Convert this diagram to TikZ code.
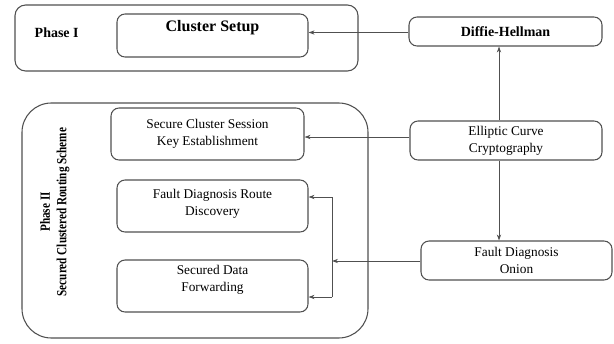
\documentclass[tikz,border=0pt]{standalone}
\usepackage{fontspec}
\setmainfont{Liberation Serif}
\usetikzlibrary{arrows.meta}
\definecolor{ln}{HTML}{505050}
\tikzset{
  box/.style={draw=ln, line width=0.8pt, rounded corners=6pt, inner sep=0pt, align=center, font=\fontsize{10}{12.5}\selectfont},
  outer/.style={draw=ln, line width=0.8pt, inner sep=0pt},
  conn/.style={draw=ln, line width=0.7pt, -{Stealth[length=4.5pt,width=3.2pt]}},
  bus/.style={draw=ln, line width=0.7pt}
}
\begin{document}
\begin{tikzpicture}[x=0.75pt,y=-0.75pt]
\useasboundingbox (0,0) rectangle (614,343);
% Phase I
\node[outer, rounded corners=8pt, minimum width=257.25pt, minimum height=49.5pt] (p1) at (186.5,38) {};
\node[font=\fontsize{10.5}{12}\selectfont\bfseries, anchor=west] (p1t) at (30,33) {Phase I};
\node[box, minimum width=143.25pt, minimum height=32.25pt] (cs) at (212.5,35.5) {};
\node[font=\fontsize{12}{14}\selectfont\bfseries] (cst) at (212.5,28) {Cluster Setup};
\node[box, minimum width=144.75pt, minimum height=21.75pt, font=\fontsize{10.5}{12}\selectfont\bfseries] (dh) at (505.5,31.5) {Diffie-Hellman};
% Phase II
\node[outer, rounded corners=22pt, minimum width=259.5pt, minimum height=176.25pt] (p2) at (195,220.5) {};
\node[rotate=90, font=\fontsize{10.5}{12}\selectfont\bfseries] (p2a) at (45,212) {\scalebox{0.8}[1]{Phase II}};
\node[rotate=90, font=\fontsize{10.5}{12}\selectfont\bfseries] (p2b) at (63,212) {\scalebox{0.8}[1]{Secured Clustered Routing Scheme}};
\node[box, minimum width=144.75pt, minimum height=39pt] (sck) at (207.5,134) {Secure Cluster Session\\Key Establishment};
\node[box, minimum width=143.25pt, minimum height=39pt] (fdr) at (212.5,206) {};
\node (fdrt) at (212.5,203.5) [align=center, font=\fontsize{10}{12.5}\selectfont] {Fault Diagnosis Route\\Discovery};
\node[box, minimum width=143.25pt, minimum height=39pt] (sdf) at (212.5,286) {};
\node (sdft) at (212.5,279.5) [align=center, font=\fontsize{10}{12.5}\selectfont] {Secured Data\\Forwarding};
% right side
\node[box, minimum width=144pt, minimum height=29.25pt] (ecc) at (506,140.5) {Elliptic Curve\\Cryptography};
\node[box, minimum width=143.25pt, minimum height=29.25pt] (fdo) at (516.5,260.5) {Fault Diagnosis\\Onion};
\coordinate (vx) at (499,0);
\coordinate (ey) at (0,137);
\coordinate (bt) at (332,197);
\coordinate (bb) at (332,297);
\coordinate (bm) at (332,261);
% connectors
\draw[conn] (dh.west |- 0,32.5) -- (cs.east |- 0,32.5);
\draw[conn] (ecc.north -| vx) -- (dh.south -| vx);
\draw[conn] (ecc.south -| vx) -- (fdo.north -| vx);
\draw[conn] (ecc.west |- ey) -- (sck.east |- ey);
\draw[conn] (fdo.west |- bm) -- (bm);
\draw[bus] (bt) -- (bb);
\draw[conn] (bt) -- (fdr.east |- bt);
\draw[conn] (bb) -- (sdf.east |- bb);
\end{tikzpicture}
\end{document}
